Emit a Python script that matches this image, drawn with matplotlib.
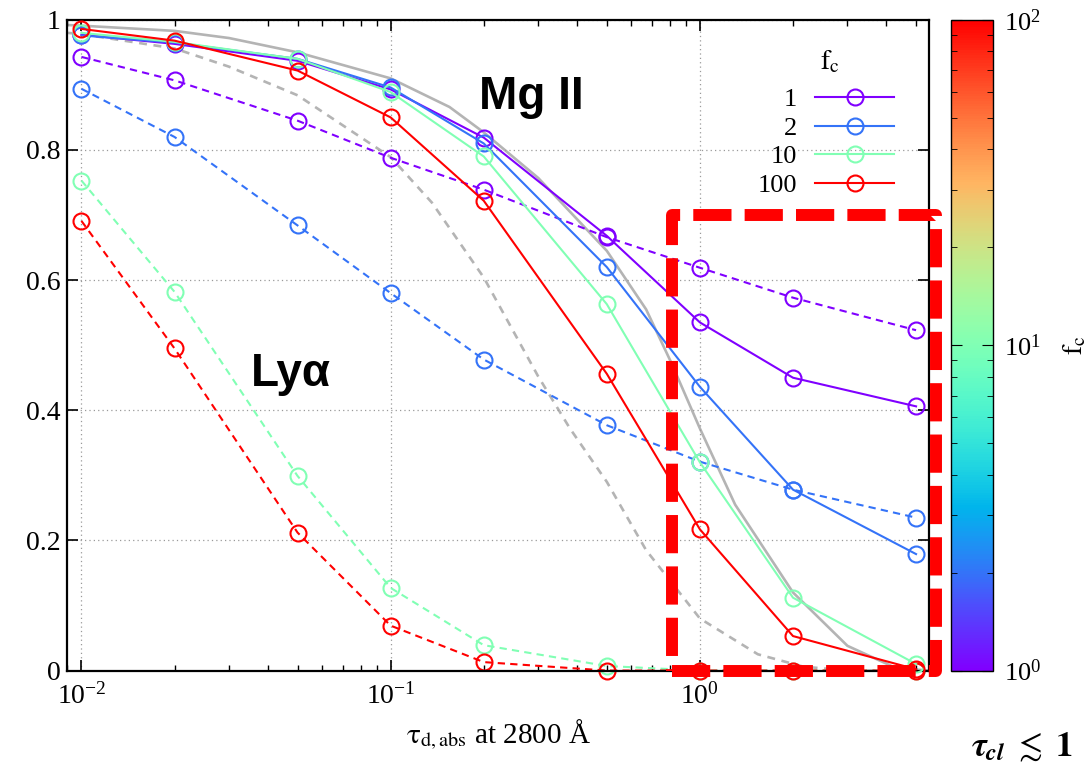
import matplotlib
matplotlib.use("Agg")
import matplotlib.pyplot as plt
from matplotlib import ticker
from matplotlib.colors import LogNorm
from matplotlib.cm import ScalarMappable
from matplotlib.patches import Rectangle

plt.rcParams['font.family'] = 'Liberation Serif'
plt.rcParams['mathtext.fontset'] = 'stix'

# dust optical depth at 2800 A
tau = [0.01, 0.02, 0.05, 0.1, 0.2, 0.5, 1, 2, 5]
fc_values = [1, 2, 10, 100]
fc_labels = ['1', '2', '10', '100']

# Mg II escape fraction (solid)
mg_fc1 = [0.977, 0.963, 0.937, 0.893, 0.819, 0.668, 0.535, 0.450, 0.406]
mg_fc2 = [0.976, 0.965, 0.940, 0.896, 0.810, 0.620, 0.436, 0.278, 0.179]
mg_fc10 = [0.980, 0.966, 0.940, 0.889, 0.790, 0.563, 0.320, 0.112, 0.010]
mg_fc100 = [0.986, 0.968, 0.922, 0.850, 0.722, 0.456, 0.217, 0.053, 0.002]

# Lya escape fraction (dashed)
lya_fc1 = [0.943, 0.907, 0.845, 0.788, 0.739, 0.666, 0.619, 0.573, 0.523]
lya_fc2 = [0.894, 0.820, 0.684, 0.580, 0.478, 0.377, 0.321, 0.278, 0.235]
lya_fc10 = [0.753, 0.582, 0.299, 0.127, 0.039, 0.007, 0.0, 0.0, 0.0]
lya_fc100 = [0.691, 0.495, 0.212, 0.069, 0.013, 0.0, 0.0, 0.0, 0.0]

# homogeneous reference curves (grey)
ref_mg_tau = [0.009, 0.01, 0.02, 0.03, 0.05, 0.1, 0.155, 0.2, 0.3, 0.5, 0.67, 0.81,
              1.0, 1.3, 2.0, 3.0, 4.3, 5.5]
ref_mg = [0.992, 0.991, 0.983, 0.972, 0.950, 0.910, 0.866, 0.827, 0.757, 0.645, 0.555, 0.472,
          0.372, 0.255, 0.120, 0.038, 0.004, 0.0]
ref_lya_tau = [0.009, 0.01, 0.02, 0.03, 0.05, 0.1, 0.136, 0.2, 0.3, 0.38, 0.5, 0.67,
               1.0, 1.54, 2.16, 3.0, 5.5]
ref_lya = [0.980, 0.978, 0.956, 0.928, 0.884, 0.789, 0.719, 0.604, 0.452, 0.372, 0.290, 0.185,
           0.080, 0.025, 0.006, 0.0, 0.0]

yticks = [0, 0.2, 0.4, 0.6, 0.8, 1.0]
ytick_labels = ['0', '0.2', '0.4', '0.6', '0.8', '1']

# highlighted region
box_x = (0.815, 5.8)
box_y = (0.0, 0.7)

mg_series = [mg_fc1, mg_fc2, mg_fc10, mg_fc100]
lya_series = [lya_fc1, lya_fc2, lya_fc10, lya_fc100]

norm = LogNorm(vmin=1, vmax=100)
cmap = plt.get_cmap('rainbow')

fig = plt.figure(figsize=(10.92, 7.62), dpi=100)
ax = fig.add_axes([0.0616, 0.120, 0.789, 0.854])
cax = fig.add_axes([0.8706, 0.120, 0.039, 0.854])

ax.plot(ref_mg_tau, ref_mg, color='#b4b4b4', lw=1.9, zorder=1)
ax.plot(ref_lya_tau, ref_lya, color='#b4b4b4', lw=1.9, dashes=(3, 2.5), zorder=1)

mk = dict(marker='o', ms=11.5, mfc='none', mew=1.5, clip_on=False)
for fc, ys in zip(fc_values, lya_series):
    ax.plot(tau, ys, color=cmap(norm(fc)), lw=1.5, dashes=(3.5, 2.5), zorder=2, **mk)
for fc, lab, ys in zip(fc_values, fc_labels, mg_series):
    ax.plot(tau, ys, color=cmap(norm(fc)), lw=1.5, label=lab, zorder=3, **mk)

ax.add_patch(Rectangle((box_x[0], box_y[0]), box_x[1] - box_x[0], box_y[1] - box_y[0],
                       fill=False, ec='red', lw=8.6, linestyle=(0, (3.2, 1.1)),
                       joinstyle='round', capstyle='butt', clip_on=False, zorder=5))

ax.set_xscale('log')
ax.set_xlim(0.009, 5.5)
ax.set_ylim(0, 1)
ax.set_yticks(yticks)
ax.set_yticklabels(ytick_labels)
ax.xaxis.set_major_locator(ticker.LogLocator(base=10, numticks=10))
ax.xaxis.set_minor_locator(ticker.LogLocator(base=10, subs=range(2, 10), numticks=20))
ax.xaxis.set_minor_formatter(ticker.NullFormatter())
ax.tick_params(which='both', direction='in', top=True, right=True, labelsize=20)
ax.tick_params(which='major', length=8, width=1.2)
ax.tick_params(which='minor', length=4.5, width=1.0)
ax.tick_params(axis='x', pad=9)
ax.tick_params(axis='y', pad=5)
for s in ax.spines.values():
    s.set_linewidth(1.6)
ax.grid(True, which='major', ls=(0, (1, 2.5)), color='#9a9a9a', lw=0.9)

ax.set_xlabel(r'$\mathrm{\tau_{d,abs}}$ at 2800 Å', fontsize=21, labelpad=6)

ax.text(0.286, 0.882, 'Mg II', fontfamily='Liberation Sans', fontweight='bold',
        fontsize=33, ha='center', va='center')
ax.text(0.0476, 0.456, 'Lyα', fontfamily='Liberation Sans', fontweight='bold',
        fontsize=33, ha='center', va='center')

# legend heading sits above the entries, gnuplot style
ax.text(0.885, 0.936, r'$\mathrm{f_c}$', transform=ax.transAxes, fontsize=20,
        ha='center', va='center')
leg = ax.legend(loc='upper right', bbox_to_anchor=(0.960, 0.8955), frameon=False,
                markerfirst=False, fontsize=19, handlelength=3.0, handletextpad=0.7,
                labelspacing=0.19, borderpad=0, borderaxespad=0)

sm = ScalarMappable(norm=norm, cmap=cmap)
cb = fig.colorbar(sm, cax=cax)
cb.outline.set_linewidth(1.0)
cax.tick_params(which='both', direction='in', left=True, right=True, labelsize=19, pad=8)
cax.tick_params(which='major', length=8)
cax.tick_params(which='minor', length=4.5)
cb.set_label(r'$\mathrm{f_c}$', fontsize=20, labelpad=14)

fig.text(0.889, 0.008, r'$\mathbfit{\tau_{cl}}\ \lesssim\ \mathbf{1}$', fontsize=25)

fig.savefig('out.png', dpi=100)
